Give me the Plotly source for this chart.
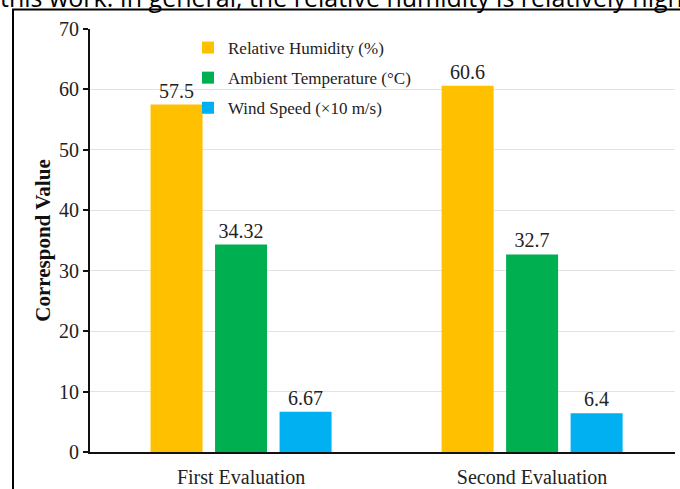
import plotly.graph_objects as go

categories = ["First Evaluation", "Second Evaluation"]
series_names = ["Relative Humidity (%)", "Ambient Temperature (°C)", "Wind Speed (×10 m/s)"]
humidity = [57.5, 60.6]
temperature = [34.32, 32.7]
wind = [6.67, 6.4]
labels_h = ["57.5", "60.6"]
labels_t = ["34.32", "32.7"]
labels_w = ["6.67", "6.4"]
colors = ["#FFC000", "#00B050", "#00B0F0"]

serif = "Liberation Serif"

fig = go.Figure()
for i, (name, vals, labs, col) in enumerate(zip(series_names, [humidity, temperature, wind],
                                 [labels_h, labels_t, labels_w], colors)):
    fig.add_trace(go.Bar(
        x=categories, y=vals, name=name, legendgroup=f"g{i}",
        marker=dict(color=col, line=dict(width=0)),
        text=labs, textposition="outside", cliponaxis=False,
        textfont=dict(family=serif, size=20, color="#222"),
    ))

W, H = 680, 489
L, R, T, B = 90, 5, 29, 37
pw, ph = W - L - R, H - T - B

def px(x):
    return (x - L) / pw

def py(y):
    return (H - B - y) / ph

fig.update_layout(
    width=W, height=H,
    margin=dict(l=L, r=R, t=T, b=B, pad=0, autoexpand=False),
    paper_bgcolor="white", plot_bgcolor="white",
    barmode="group", bargap=0.335, bargroupgap=0.194,
    font=dict(family=serif, color="#222"),
    showlegend=True,
    legend=dict(x=px(188), y=py(30), xanchor="left", yanchor="top",
                traceorder="grouped", tracegroupgap=5,
                bgcolor="rgba(0,0,0,0)", font=dict(family=serif, size=17, color="#222"),
                itemwidth=30),
    xaxis=dict(range=[-0.519, 1.491], showline=True, linecolor="#111", linewidth=2,
               ticks="", ticklabelstandoff=6, automargin=False,
               tickfont=dict(family=serif, size=20, color="#222"),
               showgrid=False, zeroline=False),
    yaxis=dict(range=[0, 70], dtick=10, showline=True, linecolor="#111", linewidth=2,
               ticks="outside", ticklen=5, tickcolor="#111", tickwidth=2, automargin=False,
               tickfont=dict(family=serif, size=20, color="#222"),
               showgrid=True, gridcolor="#e3e3e3", gridwidth=1, zeroline=False,
               title=dict(text="<b>Correspond Value</b>", standoff=3,
                          font=dict(family=serif, size=21, color="#111"))),
    shapes=[dict(type="rect", xref="paper", yref="paper",
                 x0=px(13), x1=px(720), y0=py(530), y1=py(9.5),
                 line=dict(color="black", width=2), fillcolor="rgba(0,0,0,0)", layer="above")],
    annotations=[dict(text="this work. In general, the relative humidity is relatively high",
                      xref="paper", yref="paper", x=px(-2), y=py(16), xanchor="left",
                      yanchor="bottom", showarrow=False,
                      font=dict(family="Open Sans", size=25, color="black"))],
)

fig.write_html("out.html")
